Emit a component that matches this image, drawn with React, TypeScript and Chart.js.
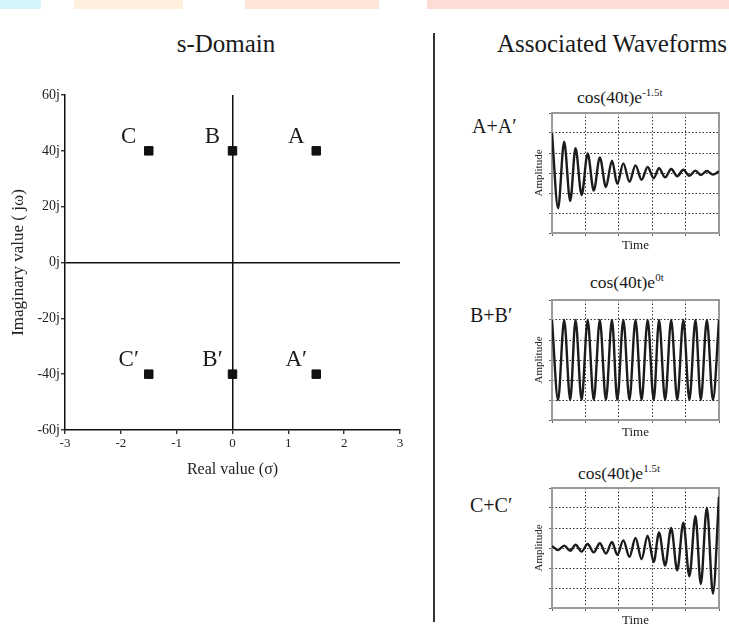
import React, { useEffect, useRef } from 'react';
import { Chart, registerables } from 'chart.js';

Chart.register(...registerables);

const FONT = "'Liberation Serif', 'Times New Roman', Times, serif";
Chart.defaults.font.family = FONT;

// ---------- s-domain data ----------
const POLE_LABELS = ['A', 'B', 'C', 'A\u2032', 'B\u2032', 'C\u2032'];
const POLE_REAL = [1.5, 0, -1.5, 1.5, 0, -1.5];
const POLE_IMAG = [40, 40, 40, -40, -40, -40];
const REAL_TICKS = [-3, -2, -1, 0, 1, 2, 3];
const IMAG_TICKS = [-60, -40, -20, 0, 20, 40, 60];

// ---------- waveform data (read at successive peaks / troughs) ----------
const TIME = [
  0, 0.08, 0.16, 0.24, 0.31, 0.39, 0.47, 0.55, 0.63, 0.71, 0.79, 0.86, 0.94, 1.02, 1.1,
  1.18, 1.26, 1.34, 1.41, 1.49, 1.57, 1.65, 1.73, 1.81, 1.89, 1.96, 2.04, 2.12, 2.2,
];
const TIME_TICKS = [0, 0.44, 0.88, 1.32, 1.76, 2.2];
const AMP_TICKS = [-1.5, -1, -0.5, 0, 0.5, 1, 1.5];
const WAVE_A = [
  1.0, -0.88, 0.78, -0.7, 0.62, -0.55, 0.49, -0.44, 0.39, -0.35, 0.31, -0.27, 0.24, -0.22, 0.19,
  -0.17, 0.15, -0.13, 0.12, -0.11, 0.1, -0.08, 0.08, -0.07, 0.06, -0.05, 0.05, -0.04, 0.04,
];
const WAVE_B = [
  1, -1, 1, -1, 1, -1, 1, -1, 1, -1, 1, -1, 1, -1, 1,
  -1, 1, -1, 1, -1, 1, -1, 1, -1, 1, -1, 1, -1, 1,
];
const WAVE_C = [
  0.05, -0.05, 0.06, -0.07, 0.08, -0.09, 0.1, -0.11, 0.12, -0.14, 0.15, -0.17, 0.19, -0.22, 0.25,
  -0.28, 0.31, -0.35, 0.39, -0.44, 0.5, -0.56, 0.63, -0.71, 0.8, -0.9, 1.01, -1.14, 1.28,
];

const WAVES = [
  { values: WAVE_A, label: 'A+A\u2032', exp: '-1.5t' },
  { values: WAVE_B, label: 'B+B\u2032', exp: '0t' },
  { values: WAVE_C, label: 'C+C\u2032', exp: '1.5t' },
];

// ---------- plugins ----------
const poleLabelsPlugin = {
  id: 'poleLabels',
  afterDatasetsDraw(chart: any) {
    const ctx = chart.ctx;
    const meta = chart.getDatasetMeta(0);
    ctx.save();
    ctx.font = `23px ${FONT}`;
    ctx.fillStyle = '#1a1a1a';
    ctx.textAlign = 'center';
    ctx.textBaseline = 'alphabetic';
    meta.data.forEach((el: any, i: number) => {
      ctx.fillText(POLE_LABELS[i], el.x - 20, el.y - 8);
    });
    ctx.restore();
  },
};

const framePlugin = {
  id: 'frame',
  beforeDatasetsDraw(chart: any) {
    const { ctx, chartArea: a } = chart;
    ctx.save();
    ctx.strokeStyle = '#9a9a9a';
    ctx.lineWidth = 2;
    ctx.strokeRect(a.left, a.top, a.right - a.left, a.bottom - a.top);
    ctx.restore();
  },
};

const zeroLine = (c: any) => (c.tick && c.tick.value === 0 ? '#111' : 'rgba(0,0,0,0)');

function sDomainConfig(): any {
  return {
    type: 'scatter',
    data: {
      datasets: [
        {
          data: POLE_REAL.map((x, i) => ({ x, y: POLE_IMAG[i] })),
          pointStyle: 'rect',
          pointRadius: 6,
          pointHoverRadius: 6,
          backgroundColor: '#111',
          borderColor: '#111',
          borderWidth: 1,
        },
      ],
    },
    options: {
      animation: false,
      responsive: false,
      maintainAspectRatio: false,
      events: [],
      layout: { padding: { top: 25, right: 30, left: 0, bottom: 0 } },
      plugins: { legend: { display: false }, tooltip: { enabled: false } },
      scales: {
        x: {
          type: 'linear',
          min: -3,
          max: 3,
          afterBuildTicks: (s: any) => {
            s.ticks = REAL_TICKS.map((v) => ({ value: v }));
          },
          afterFit: (s: any) => {
            s.height = 60;
          },
          ticks: { font: { family: FONT, size: 13 }, color: '#222', padding: 2, callback: (v: any) => `${v}` },
          grid: { color: zeroLine, lineWidth: 1.5, tickColor: '#111', tickLength: 4, tickWidth: 1.2 },
          border: { display: true, color: '#111', width: 1.5 },
          title: {
            display: true,
            text: 'Real value (\u03c3)',
            font: { family: FONT, size: 16 },
            color: '#222',
            padding: { top: 0, bottom: 11 },
          },
        },
        y: {
          type: 'linear',
          min: -60,
          max: 60,
          afterBuildTicks: (s: any) => {
            s.ticks = IMAG_TICKS.map((v) => ({ value: v }));
          },
          afterFit: (s: any) => {
            s.width = 65;
          },
          ticks: { font: { family: FONT, size: 14 }, color: '#222', padding: 1, callback: (v: any) => `${v}j` },
          grid: { color: zeroLine, lineWidth: 1.5, tickColor: '#111', tickLength: 4, tickWidth: 1.2 },
          border: { display: true, color: '#111', width: 1.5 },
          title: {
            display: true,
            text: 'Imaginary value ( j\u03c9)',
            font: { family: FONT, size: 17 },
            color: '#222',
            padding: { top: 8, bottom: 0 },
          },
        },
      },
    },
    plugins: [poleLabelsPlugin],
  };
}

const innerGrid = (lo: number, hi: number) => (c: any) =>
  c.tick && (c.tick.value === lo || c.tick.value === hi) ? 'rgba(0,0,0,0)' : '#2e2e2e';

function waveConfig(values: number[]): any {
  return {
    type: 'line',
    data: {
      datasets: [
        {
          data: TIME.map((t, i) => ({ x: t, y: values[i] })),
          borderColor: '#1c1c1c',
          borderWidth: 2.4,
          pointRadius: 0,
          cubicInterpolationMode: 'monotone',
          fill: false,
        },
      ],
    },
    options: {
      animation: false,
      responsive: false,
      maintainAspectRatio: false,
      events: [],
      layout: { padding: { top: 12, right: 10, left: 0, bottom: 0 } },
      plugins: { legend: { display: false }, tooltip: { enabled: false } },
      scales: {
        x: {
          type: 'linear',
          min: 0,
          max: 2.2,
          afterBuildTicks: (s: any) => {
            s.ticks = TIME_TICKS.map((v) => ({ value: v }));
          },
          afterFit: (s: any) => {
            s.height = 20;
          },
          ticks: { display: false },
          grid: { color: innerGrid(0, 2.2), lineWidth: 1, tickColor: '#666', tickLength: 3 },
          border: { display: false, dash: [1.5, 2] },
          title: {
            display: true,
            text: 'Time',
            font: { family: FONT, size: 13 },
            color: '#222',
            padding: { top: 0, bottom: 0 },
          },
        },
        y: {
          type: 'linear',
          min: -1.5,
          max: 1.5,
          afterBuildTicks: (s: any) => {
            s.ticks = AMP_TICKS.map((v) => ({ value: v }));
          },
          afterFit: (s: any) => {
            s.width = 32;
          },
          ticks: { display: false },
          grid: { color: innerGrid(-1.5, 1.5), lineWidth: 1, tickColor: '#666', tickLength: 3 },
          border: { display: false, dash: [1.5, 2] },
          title: {
            display: true,
            text: 'Amplitude',
            font: { family: FONT, size: 11 },
            color: '#222',
            padding: { top: 13, bottom: 0 },
          },
        },
      },
    },
    plugins: [framePlugin],
  };
}

function ChartBox(props: { left: number; top: number; width: number; height: number; make: () => any }) {
  const ref = useRef<HTMLCanvasElement>(null);
  useEffect(() => {
    const chart = new Chart(ref.current as HTMLCanvasElement, props.make());
    return () => chart.destroy();
  }, []);
  return (
    <canvas
      ref={ref}
      width={props.width}
      height={props.height}
      style={{ position: 'absolute', left: props.left, top: props.top, width: props.width, height: props.height }}
    />
  );
}

// text placed by its baseline (Liberation Serif: ascent 0.891, descent 0.216)
function Text(props: { x: number; baseline: number; size: number; center?: boolean; children: any }) {
  const { x, baseline, size, center, children } = props;
  return (
    <div
      style={{
        position: 'absolute',
        left: x,
        top: baseline - 0.8375 * size,
        fontSize: size,
        lineHeight: `${size}px`,
        whiteSpace: 'nowrap',
        color: '#1a1a1a',
        transform: center ? 'translateX(-50%)' : undefined,
      }}
    >
      {children}
    </div>
  );
}

const BANDS = [
  { l: 0, w: 41, c: '#d5f5fb' },
  { l: 74, w: 109, c: '#ffefdf' },
  { l: 245, w: 134, c: '#ffe5da' },
  { l: 427, w: 302, c: '#ffdbd5' },
];

const WAVE_BOX_TOPS = [113, 300, 488];
const WAVE_TITLE = [
  { x: 577, b: 104 },
  { x: 590, b: 289 },
  { x: 578, b: 480 },
];
const WAVE_LABEL = [
  { x: 472, b: 133 },
  { x: 470, b: 322 },
  { x: 470, b: 512 },
];

export default function App() {
  return (
    <div
      style={{
        position: 'fixed',
        left: 0,
        top: 0,
        width: 729,
        height: 627,
        overflow: 'hidden',
        background: '#fff',
        fontFamily: FONT,
      }}
    >
      {BANDS.map((b, i) => (
        <div key={i} style={{ position: 'absolute', left: b.l, top: 0, width: b.w, height: 9, background: b.c }} />
      ))}

      <Text x={226} baseline={52} size={25} center>
        s-Domain
      </Text>
      <Text x={497} baseline={52} size={25}>
        Associated Waveforms
      </Text>

      <div style={{ position: 'absolute', left: 433, top: 33, width: 1.5, height: 589, background: '#333' }} />

      <ChartBox left={0} top={70} width={430} height={420} make={sDomainConfig} />

      {WAVES.map((w, i) => (
        <React.Fragment key={i}>
          <Text x={WAVE_TITLE[i].x} baseline={WAVE_TITLE[i].b} size={17.5}>
            cos(40t)e
            <span style={{ fontSize: 11, position: 'relative', top: -7 }}>{w.exp}</span>
          </Text>
          <Text x={WAVE_LABEL[i].x} baseline={WAVE_LABEL[i].b} size={20}>
            {w.label}
          </Text>
          <ChartBox left={520} top={WAVE_BOX_TOPS[i] - 12} width={209} height={152} make={() => waveConfig(w.values)} />
        </React.Fragment>
      ))}
    </div>
  );
}
